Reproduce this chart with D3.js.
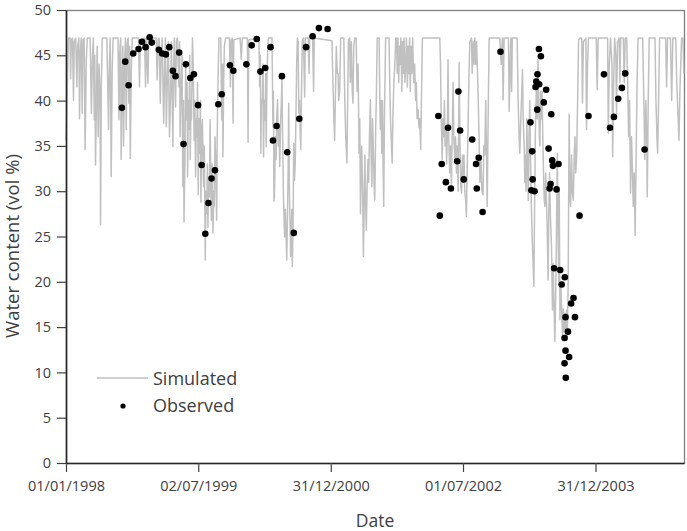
<!DOCTYPE html>
<html>
<head>
<meta charset="utf-8">
<script src="https://cdn.jsdelivr.net/npm/d3@7"></script>
<style>
  html, body { margin: 0; padding: 0; background: #fff; }
  svg { display: block; font-family: "Open Sans", "Noto Sans", sans-serif; }
  .tick text { fill: #404040; }
</style>
</head>
<body>
<svg id="chart" width="687" height="531"></svg>
<script>
// days are counted from 01/01/1998
var startDate = new Date(Date.UTC(1998, 0, 1));
var endDay = 2556;

var yTicks = [0, 5, 10, 15, 20, 25, 30, 35, 40, 45, 50];
var xTickDays = [0, 547, 1095, 1642, 2190];

// simulated water content, [day, vol %]
var simulated = [
  [0,35.6],[5,41],[10,46.9],[17,46.9],[19,42.4],[22,46.7],[27,46.9],[31,40.0],[34,46.5],[40,46.9],
  [45,41.5],[48,46.0],[53,46.9],[56,38.0],[59,45.2],[63,46.9],[67,38.6],[70,46.7],[75,46.9],[79,34.6],
  [84,44.5],[88,46.9],[100,46.9],[105,38.6],[109,44.5],[113,46.9],[117,37.9],[119,45],[122,32.9],[126,40.1],
  [129,46],[133,36.0],[137,44],[141,40],[143,26.3],[146,41.5],[150,46.9],[169,46.9],[176,36.8],[179,43.4],
  [183,46.9],[187,31.6],[191,43.4],[195,46.9],[215,46.9],[219,37.9],[222,45.2],[226,46.9],[228,33.5],[232,41.5],
  [235,46],[238,35.0],[242,44.1],[246,46.9],[249,36.8],[253,46.3],[257,46.9],[260,39.7],[263,46],[266,33.6],
  [270,43.4],[274,46.9],[300,46.9],[304,41.5],[307,46.7],[325,46.9],[329,41.5],[332,46.9],[339,41.9],[342,46.9],
  [373,46.9],[377,42.3],[381,46.7],[385,46.9],[390,39.7],[394,45.2],[398,46.9],[404,37.5],[408,43.4],[411,46.9],
  [415,37.1],[419,42.3],[423,46.5],[428,36.0],[432,40.4],[436,46.5],[442,34.9],[445,43.4],[448,46.9],[453,39.3],
  [457,46.7],[461,46.9],[467,41.5],[470,46.5],[472,36.0],[476,41.5],[480,45],[483,30.5],[486,40],[488,26.6],
  [492,33.5],[495,44],[497,37.9],[501,42],[503,31.6],[506,40],[508,36.8],[512,45],[514,33.5],[517,40],
  [519,37.9],[523,46.9],[526,44],[530,35.6],[533,40],[536,31.6],[539,38],[541,36.0],[544,42],[547,29.6],
  [550,38],[553,34.2],[556,40],[558,28.8],[561,36],[564,37.9],[567,33],[569,30.5],[572,35],[576,22.4],
  [579,30],[582,27.5],[585,33],[587,26.0],[590,31],[593,29.4],[596,37.9],[599,31],[601,26.8],[604,33],
  [608,25.4],[611,30],[613,28.3],[616,36],[619,33.5],[621,30],[623,26.8],[625,35],[627,39.7],[630,44],
  [633,46.9],[640,46.9],[644,37.9],[647,44],[649,33.8],[652,41.5],[655,46],[660,46.9],[676,46.9],[680,41.5],
  [683,46.7],[688,46.9],[691,37.5],[694,46.7],[720,46.9],[725,44.5],[729,46.9],[750,46.9],[753,35.4],[756,46.7],
  [798,46.9],[801,41.5],[804,45],[806,34.2],[809,40],[812,39.7],[815,44],[817,33.8],[820,40],[823,37.9],
  [826,43],[828,34.9],[831,42],[834,45.2],[837,46.9],[852,46.9],[856,37.1],[858,41],[860,28.9],
  [862,29.4],[866,36],[869,33.5],[872,38.5],[875,40.1],[878,35],[881,37],[884,32.7],[888,38],[891,40],
  [893,42.5],[896,36],[899,30],[902,26.8],[904,24.95],[907,28],[910,25.5],[913,22.4],[916,27],[919,33],
  [921,39.7],[924,30],[927,26],[929,22.8],[932,25.5],[934,28],[936,21.7],[939,26],[942,35.3],[945,31.2],
  [948,33],[951,38],[954,44],[957,46.9],[960,46.5],[963,38.6],[966,40],[969,36],[971,34.6],[974,41],
  [977,46.5],[982,46.9],[985,43],[987,40.4],[990,46.9],[1002,46.9],[1005,43.0],[1008,46.9],[1020,46.9],[1024,41.0],
  [1027,46.9],[1100,46.6],[1104,42],[1108,38],[1111,35.6],[1114,40],[1118,46],[1122,43],[1125,43],[1128,40],
  [1132,41],[1136,46.9],[1149,46.9],[1153,40],[1157,36],[1162,33.1],[1165,40],[1168,46.7],[1173,46.9],[1176,42],
  [1180,46.5],[1184,41],[1187,39.7],[1190,46],[1194,46.9],[1200,46.9],[1204,41],[1208,44],[1212,34.2],[1215,38],
  [1218,27.5],[1221,32],[1223,35],[1227,30],[1230,22.8],[1233,28],[1236,34],[1239,29],[1242,25.7],[1245,30],
  [1249,33.5],[1252,31],[1255,36],[1259,40.1],[1262,34],[1265,30.5],[1268,38],[1270,36],[1274,31],[1277,29],
  [1281,37],[1284,41],[1287,46.9],[1295,46.9],[1298,40],[1300,36.8],[1303,40],[1306,34.2],[1309,40],[1312,32],
  [1314,28.3],[1317,38],[1322,46.9],[1336,46.9],[1339,42],[1342,38],[1345,36],[1349,33.1],[1352,38],[1356,42],
  [1360,44],[1364,46.9],[1367,46.9],[1370,43],[1373,46.9],[1376,42],[1379,46],[1382,44],[1385,46.9],[1389,41],
  [1392,46.5],[1395,43],[1398,46.9],[1402,42],[1405,44],[1408,46.9],[1412,41.5],[1415,46],[1418,43],[1421,46.9],
  [1424,41],[1427,46],[1430,43],[1434,46.9],[1438,42],[1442,44],[1446,40],[1449,42],[1452,38],[1456,39],
  [1460,37],[1463,38],[1467,34.6],[1470,40],[1474,46.9],[1546,46.9],
  [1549,44],[1552,37.9],[1556,33.5],[1559,38],[1562,36],[1565,40],[1568,35],[1571,37],[1574,33],[1577,36],
  [1580,44.5],[1583,36],[1587,32],[1590,35],[1594,30.5],[1597,36],[1601,42],[1604,36],[1608,33.5],[1611,36],
  [1615,32],[1618,35],[1622,30],[1626,44.2],[1629,36],[1633,30.5],[1636,29.8],[1640,34],[1643,31],[1646,34],
  [1649,30],[1653,29],[1656,27.2],[1659,32],[1663,37.1],[1666,42],[1670,46.5],[1677,46.9],[1680,43],[1684,46.5],
  [1688,44],[1691,46.9],[1695,44],[1698,46.5],[1702,43],[1705,40],[1709,35],[1712,31],[1716,34],[1720,30],
  [1725,29.6],[1728,35],[1732,34],
  [1736,40],[1742,28.3],[1746,38],[1750,46.9],[1794,46.9],[1800,44],[1805,46.9],[1808,40.1],[1812,46.9],[1830,46.9],
  [1833,38.8],[1837,44],[1840,46.9],[1843,41],[1846,46.9],[1866,46.9],[1870,40],[1874,36],[1877,34.2],[1881,38],
  [1885,41],[1888,43.4],[1891,38],[1895,35],[1898,31],[1900,34],[1903,30],[1906,38],[1909,33],[1912,29],
  [1915,36],[1918,40],[1921,34],[1925,28],[1929,24],[1932,22],[1935,19.5],[1938,28],[1941,36],[1944,40],
  [1946,42],[1949,38],[1952,44.5],[1955,40],[1958,36],[1960,35],[1963,41],[1966,38],[1969,41],[1972,36],
  [1975,32],[1978,29],[1981,28.3],[1984,32],[1987,29],[1990,26],[1994,20.2],[1997,28],[2000,32],[2004,26.8],
  [2008,24],[2012,16.9],[2015,22],[2018,18],[2022,13.4],[2025,18],[2028,24],[2032,34.2],[2035,26],[2038,20],
  [2040,30],[2043,15.8],[2046,20],[2050,17],[2054,13.9],[2057,17],[2060,14.5],[2063,16.5],[2066,14],[2070,16.9],
  [2073,13.6],[2077,20],[2081,38.5],[2084,30],[2087,28.3],[2091,34],[2094,30],[2098,29.0],[2102,34],[2105,36],
  [2108,32],[2112,33.8],[2116,40],[2120,46.7],[2125,46.9],[2133,46.9],[2136,39.7],[2140,46.5],[2150,46.9],[2153,36.8],
  [2157,44],[2161,46.9],[2193,46.9],[2197,41.2],[2201,46.9],[2240,46.9],[2243,36.4],[2247,44],[2252,46.9],[2258,44],
  [2261,33.8],[2265,42],[2269,46.9],[2274,45],[2277,38.6],[2281,46.5],[2288,46.9],[2291,42],[2294,46.9],[2305,46.9],
  [2309,42],[2313,46.9],[2319,46.9],[2323,42],[2327,36],[2331,40],[2335,29.8],[2339,36],[2343,32],[2346,28.3],
  [2350,32],[2354,25.1],[2358,34],[2362,42],[2366,46.9],[2385,46.9],[2390,40],[2394,33.5],[2398,40],[2402,36],
  [2404,29.4],[2408,40],[2412,46.9],[2436,46.9],[2440,40],[2444,36],[2447,34.2],[2451,40],[2455,46.9],[2480,46.9],
  [2484,41.5],[2488,46.9],[2500,46.9],[2505,40],[2510,46.9],[2522,46.9],[2526,42],[2532,38],[2535,35.6],[2540,42],
  [2546,46.9],[2552,46.9],[2555,43]
];

// observed water content, [day, vol %]
var observed = [
  [231,39.2],[245,44.3],[259,41.7],[278,45.2],[300,45.7],[314,46.5],[329,45.9],[346,47.0],[355,46.4],[384,45.6],
  [398,45.2],[413,45.1],[427,45.9],[442,43.3],[453,42.7],[468,45.3],[486,35.2],[496,44.0],[514,42.5],[529,42.9],
  [546,39.5],[561,32.9],[576,25.3],[589,28.7],[602,31.4],[616,32.3],[630,39.6],[644,40.7],[678,43.9],[692,43.3],
  [746,44.0],[768,46.1],[789,46.8],[804,43.2],[824,43.6],[846,45.9],[856,35.6],[871,37.2],[893,42.7],[915,34.3],
  [942,25.4],[965,38.0],[993,45.9],[1020,47.1],[1046,48.0],[1082,47.9],
  [1540,38.3],[1546,27.3],[1554,33.0],[1571,31.0],[1580,37.0],[1592,30.3],[1618,33.3],[1623,41.0],[1630,36.7],[1645,31.3],
  [1680,35.7],[1696,33.0],[1699,30.3],[1707,33.7],[1723,27.7],[1797,45.4],
  [1921,37.6],[1925,30.1],[1928,34.4],[1930,31.3],[1938,30.0],[1942,41.5],[1945,42.1],[1949,39.0],[1950,42.9],[1956,45.7],
  [1957,41.8],[1964,44.9],[1976,39.8],[1986,41.2],[1996,34.7],[2000,30.3],[2004,30.8],[2007,38.5],[2011,33.4],[2014,32.8],
  [2019,21.5],[2029,30.2],[2037,33.0],[2044,21.3],[2050,19.7],[2062,13.8],[2063,20.5],[2066,16.1],[2066,12.4],[2062,11.0],
  [2067,9.4],[2076,14.5],[2081,11.7],[2089,17.6],[2099,18.2],[2105,16.1],[2124,27.3],
  [2161,38.3],[2225,42.9],[2250,37.0],[2266,38.2],[2284,40.2],[2299,41.4],[2313,43.0],[2393,34.6]
];

var legendItems = ['Simulated', 'Observed'];

(function() {
  "use strict";

  var margin = {top: 10, right: 3, bottom: 68, left: 66};
  var svg = d3.select('#chart');
  var width = +svg.attr('width') - margin.left - margin.right;
  var height = +svg.attr('height') - margin.top - margin.bottom;

  function toDate(day) {
    return d3.utcDay.offset(startDate, day);
  }

  var x = d3.scaleUtc()
    .domain([startDate, toDate(endDay)])
    .range([0, width]);

  var y = d3.scaleLinear()
    .domain([0, 50])
    .range([height, 0]);

  var g = svg.append('g')
    .attr('transform', 'translate(' + margin.left + ',' + margin.top + ')');

  // frame: top and right are thin grey
  g.append('rect')
    .attr('x', 0.5)
    .attr('y', 0.5)
    .attr('width', width)
    .attr('height', height)
    .attr('fill', 'none')
    .attr('stroke', '#808080')
    .attr('stroke-width', 1.3);

  var line = d3.line()
    .x(function(d) { return x(toDate(d[0])); })
    .y(function(d) { return y(d[1]); });

  g.append('path')
    .datum(simulated)
    .attr('d', line)
    .attr('fill', 'none')
    .attr('stroke', '#c0c0c0')
    .attr('stroke-width', 1.5)
    .attr('stroke-linejoin', 'round');

  g.selectAll('circle.obs')
    .data(observed)
    .enter().append('circle')
    .attr('class', 'obs')
    .attr('cx', function(d) { return x(toDate(d[0])); })
    .attr('cy', function(d) { return y(d[1]); })
    .attr('r', 3.3)
    .attr('fill', '#000');

  var fmt = d3.utcFormat('%d/%m/%Y');

  var xAxis = g.append('g')
    .attr('transform', 'translate(0,' + height + ')')
    .call(d3.axisBottom(x)
      .tickValues(xTickDays.map(toDate))
      .tickFormat(fmt)
      .tickSize(9)
      .tickSizeOuter(0)
      .tickPadding(9));

  var yAxis = g.append('g')
    .call(d3.axisLeft(y)
      .tickValues(yTicks)
      .tickSize(9)
      .tickSizeOuter(0)
      .tickPadding(6));

  [xAxis, yAxis].forEach(function(ax) {
    ax.select('.domain').attr('stroke', '#262626').attr('stroke-width', 1.6);
    ax.selectAll('.tick line').attr('stroke', '#404040').attr('stroke-width', 1.2);
    ax.selectAll('.tick text')
      .attr('font-size', '14.5px')
      .attr('font-family', '"Open Sans", "Noto Sans", sans-serif');
  });

  // axis titles
  svg.append('text')
    .attr('x', margin.left + width / 2)
    .attr('y', 527)
    .attr('text-anchor', 'middle')
    .attr('font-size', '17.5px')
    .attr('fill', '#404040')
    .text('Date');

  svg.append('text')
    .attr('transform', 'translate(19,246) rotate(-90)')
    .attr('text-anchor', 'middle')
    .attr('font-size', '18.5px')
    .attr('fill', '#404040')
    .text('Water content (vol %)');

  // legend
  var legend = svg.append('g').attr('transform', 'translate(97,378)');

  legend.append('line')
    .attr('x1', 0).attr('x2', 51)
    .attr('y1', 0).attr('y2', 0)
    .attr('stroke', '#c0c0c0')
    .attr('stroke-width', 1.5);

  legend.append('circle')
    .attr('cx', 26)
    .attr('cy', 28)
    .attr('r', 2.6)
    .attr('fill', '#000');

  legend.selectAll('text.item')
    .data(legendItems)
    .enter().append('text')
    .attr('class', 'item')
    .attr('x', 56)
    .attr('y', function(d, i) { return 7 + i * 27; })
    .attr('font-size', '18px')
    .attr('fill', '#404040')
    .text(function(d) { return d; });
})();
</script>
</body>
</html>
